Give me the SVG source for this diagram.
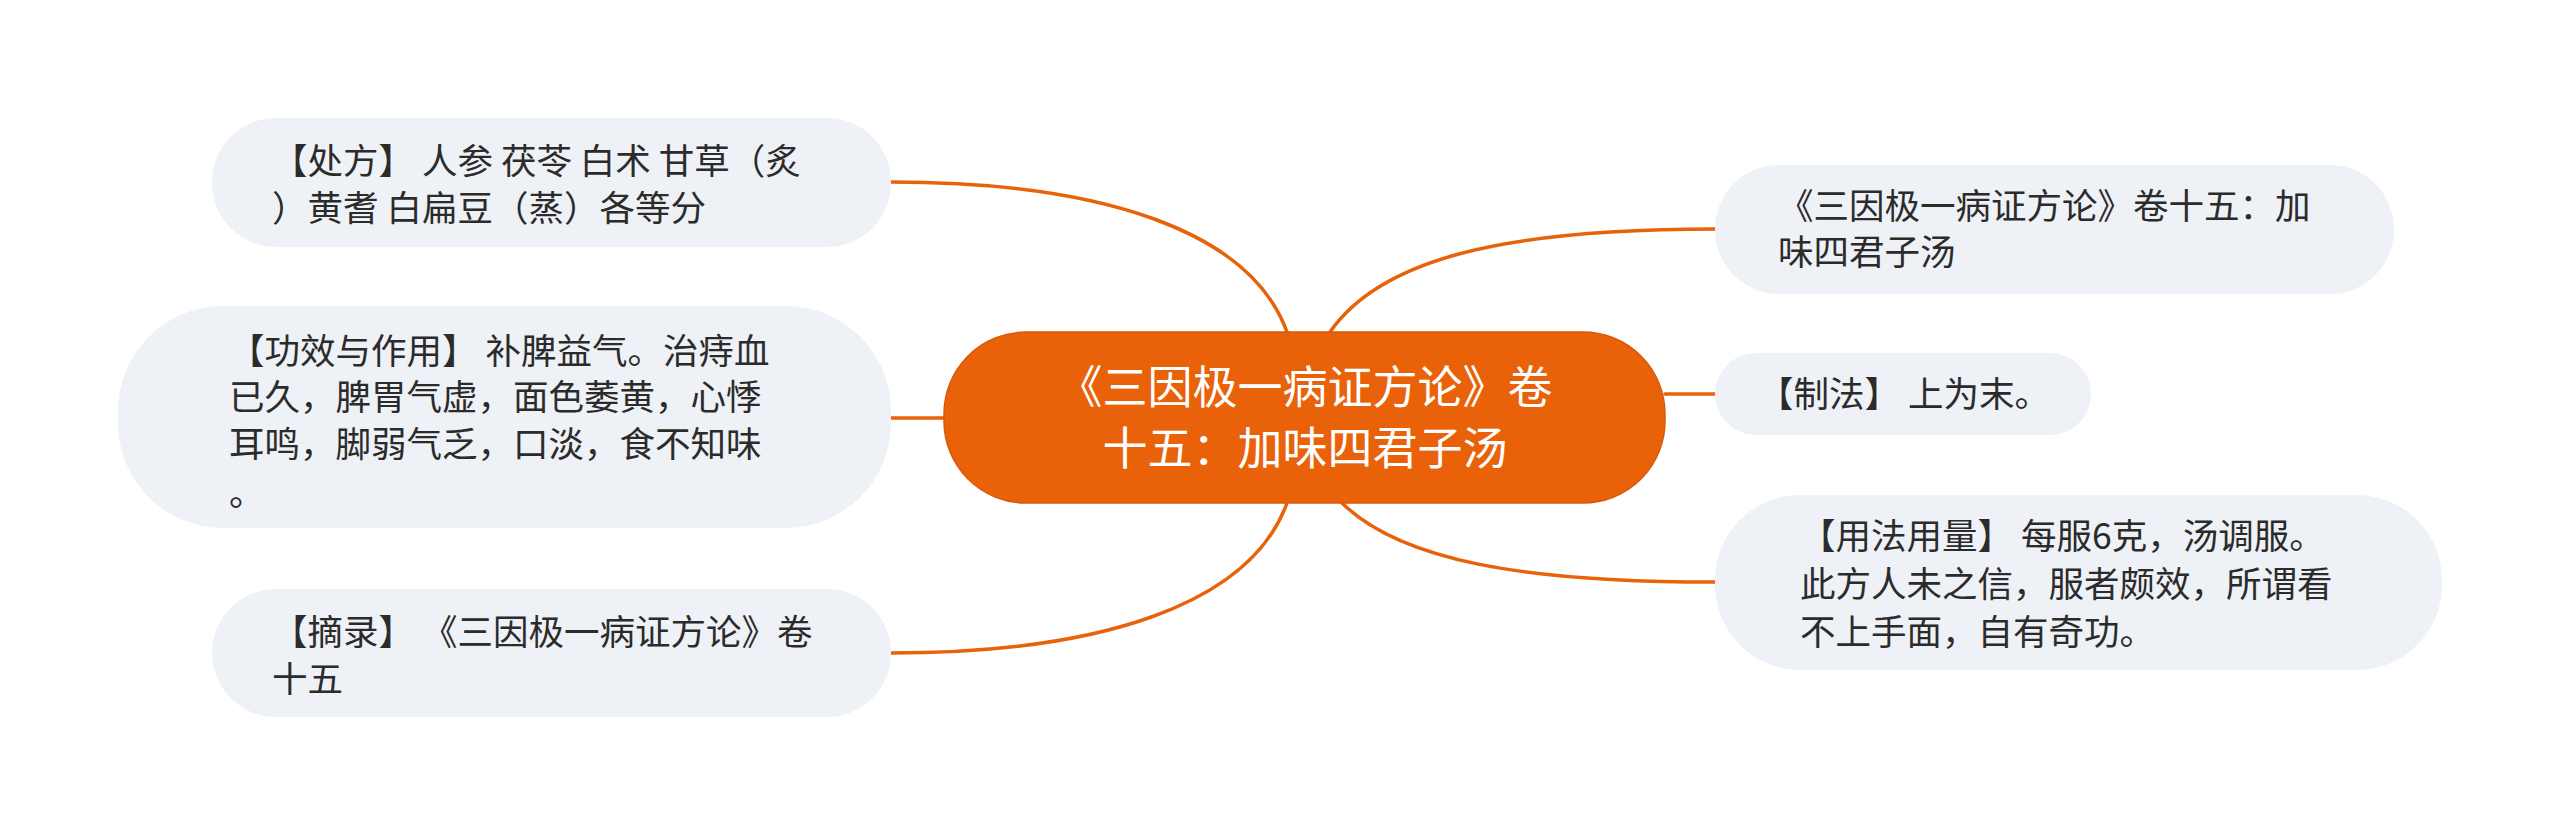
<svg xmlns="http://www.w3.org/2000/svg" width="2560" height="836" viewBox="0 0 2560 836">
<style>
.leaf{fill:#EEF1F5;}
.lt{font-family:"Noto Sans CJK SC","Noto Sans",sans-serif;font-size:35.5px;fill:#2b2b2b;}
.ct{font-family:"Noto Sans CJK SC","Noto Sans",sans-serif;font-size:45px;fill:#ffffff;text-anchor:middle;}
.conn path{fill:none;stroke:#E8620A;stroke-width:3.5;stroke-linecap:round;}
</style>
<rect width="2560" height="836" fill="#ffffff"/>
<g class="conn" id="connectors">
<path d="M1287 332 C1250 230 1100 182 891 182"/>
<path d="M944 418 L891 418"/>
<path d="M1287 503 C1250 605 1100 653 891 653"/>
<path d="M1330 332 C1380 260 1500 229 1715 229"/>
<path d="M1665 394 L1715 394"/>
<path d="M1342 503 C1400 560 1520 582 1715 582"/>
</g>
<g id="center">
<rect x="944" y="332" width="721" height="171" rx="82" fill="#E9620A" stroke="#D95A08" stroke-width="1.5"/>
<text class="ct" x="1305" y="404">《三因极一病证方论》卷</text>
<text class="ct" x="1305" y="465">十五：加味四君子汤</text>
</g>
<g id="node-chufang">
<rect class="leaf" x="212" y="118" width="679" height="129" rx="64"/>
<text class="lt" x="272" y="174" xml:space="preserve">【处方】 人参 茯苓 白术 甘草（炙</text>
<text class="lt" x="272" y="221" xml:space="preserve">）黄耆 白扁豆（蒸）各等分</text>
</g>
<g id="node-gongxiao">
<rect class="leaf" x="118" y="306" width="773" height="222" rx="105"/>
<text class="lt" x="229" y="364" xml:space="preserve">【功效与作用】 补脾益气。治痔血</text>
<text class="lt" x="229" y="410">已久，脾胃气虚，面色萎黄，心悸</text>
<text class="lt" x="229" y="457">耳鸣，脚弱气乏，口淡，食不知味</text>
<text class="lt" x="229" y="506">。</text>
</g>
<g id="node-zhailu">
<rect class="leaf" x="212" y="589" width="679" height="128" rx="64"/>
<text class="lt" x="272" y="645" xml:space="preserve">【摘录】 《三因极一病证方论》卷</text>
<text class="lt" x="272" y="692">十五</text>
</g>
<g id="node-title">
<rect class="leaf" x="1715" y="165" width="679" height="129" rx="64"/>
<text class="lt" x="1778" y="219">《三因极一病证方论》卷十五：加</text>
<text class="lt" x="1778" y="265">味四君子汤</text>
</g>
<g id="node-zhifa">
<rect class="leaf" x="1715" y="353" width="376" height="82" rx="41"/>
<text class="lt" x="1758" y="407" xml:space="preserve">【制法】 上为末。</text>
</g>
<g id="node-yongfa">
<rect class="leaf" x="1715" y="495" width="727" height="175" rx="85"/>
<text class="lt" x="1800" y="549" xml:space="preserve">【用法用量】 每服6克，汤调服。</text>
<text class="lt" x="1800" y="597">此方人未之信，服者颇效，所谓看</text>
<text class="lt" x="1800" y="645">不上手面，自有奇功。</text>
</g>
</svg>
